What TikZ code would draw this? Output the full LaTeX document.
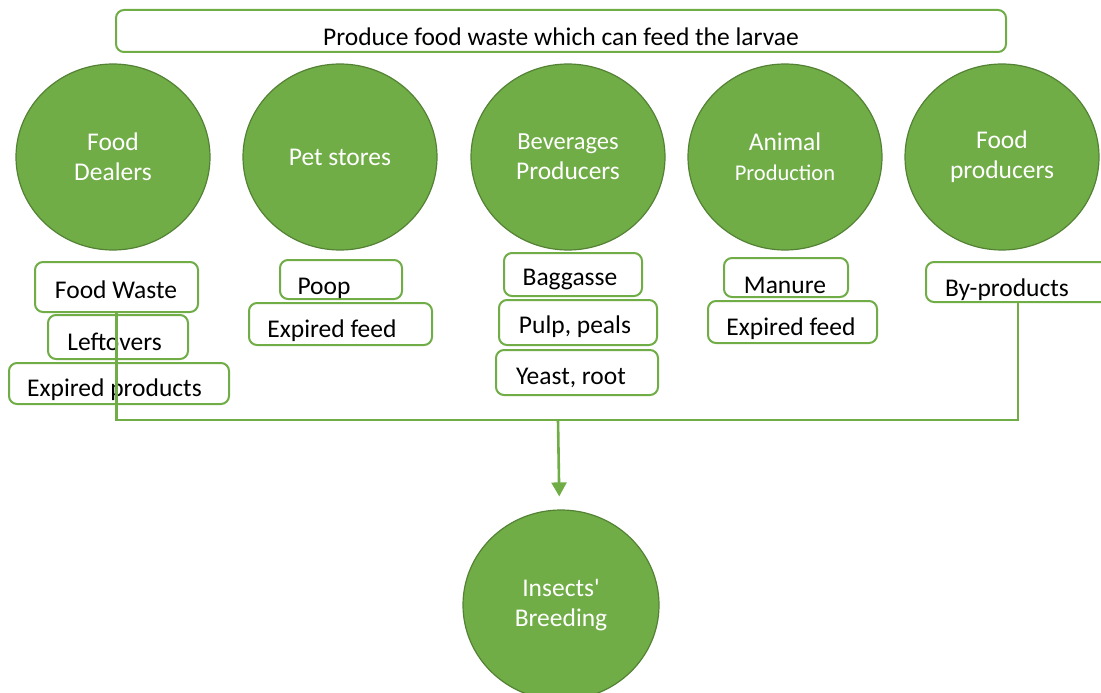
\documentclass[tikz,border=0pt]{standalone}
\usepackage{fontspec}
\setmainfont{Carlito}
\usetikzlibrary{arrows.meta, positioning, shapes.geometric}
\definecolor{leaf}{HTML}{70AD47}
\definecolor{leafdark}{HTML}{548235}

\tikzset{
  source/.style={ellipse, fill=leaf, draw=leafdark, line width=1.2pt,
    minimum width=194pt, minimum height=186pt, text=white, align=center,
    font=\fontsize{25.5}{30}\selectfont},
  item/.style={draw=leaf, line width=2pt, rounded corners=8pt, fill=white},
  itemtext/.style={inner sep=0pt, font=\fontsize{25.5}{30}\selectfont},
  link/.style={draw=leaf, line width=2.6pt},
}

\begin{document}
\begin{tikzpicture}[x=1pt, y=-1pt]
  \useasboundingbox (0,0) rectangle (1101,693);

  % header
  \node[item, minimum width=890pt, minimum height=42pt] (goal) at (561,31) {};
  \node[itemtext] (goal-t) at (561,37) {Produce food waste which can feed the larvae};

  % sources
  \node[source] (dealers) at (113,157) {Food\\Dealers};
  \node[source] (pets) at (340,157) {Pet stores};
  \node[source] (drinks) at (568,157) {{\fontsize{24.5}{30}\selectfont Beverages}\\Producers};
  \node[source] (animals) at (785,157) {Animal\\{\fontsize{22.5}{30}\selectfont Production}};
  \node[source] (makers) at (1002,157) {Food\\producers};

  % waste streams
  \node[item, minimum width=163pt, minimum height=50pt] (fw) at (116.5,287) {};
  \node[itemtext] (fw-t) at (116,290) {Food Waste};
  \node[item, minimum width=140pt, minimum height=44pt] (lo) at (118,337) {};
  \node[itemtext] (lo-t) at (114.5,342) {Leftovers};
  \node[item, minimum width=220pt, minimum height=41pt] (ep) at (119,383.5) {};
  \node[itemtext] (ep-t) at (114.5,390) {Expired products};

  \node[item, minimum width=122pt, minimum height=39pt] (poop) at (341,279.5) {};
  \node[itemtext] (poop-t) at (324,288) {Poop};
  \node[item, minimum width=183pt, minimum height=42pt] (efp) at (340.5,324) {};
  \node[itemtext] (efp-t) at (332,331) {Expired feed};

  \node[item, minimum width=138pt, minimum height=43pt] (bag) at (573,274.5) {};
  \node[itemtext] (bag-t) at (570,280) {Baggasse};
  \node[item, minimum width=158pt, minimum height=45pt] (pulp) at (578,322.5) {};
  \node[itemtext] (pulp-t) at (575,327) {Pulp, peals};
  \node[item, minimum width=162pt, minimum height=45pt] (yeast) at (577,372.5) {};
  \node[itemtext] (yeast-t) at (571,378) {Yeast, root};

  \node[item, minimum width=124pt, minimum height=39pt] (manure) at (786,277.5) {};
  \node[itemtext] (manure-t) at (785,285) {Manure};
  \node[item, minimum width=169pt, minimum height=42pt] (efa) at (792.5,322) {};
  \node[itemtext] (efa-t) at (791,329) {Expired feed};

  \node[item, minimum width=184pt, minimum height=40pt] (byp) at (1018,282) {};
  \node[itemtext] (byp-t) at (1007,290) {By-products};

  % target
  \node[source, minimum width=196pt, minimum height=190pt] (insects) at (561,605) {Insects\textquotesingle\\Breeding};

  % collector line
  \coordinate (bus) at (558,420);
  \draw[link] (fw.south) |- (bus) -| (byp.south);
  \draw[link, -{Triangle[width=15pt,length=14pt]}, shorten >=13pt] (bus) -- (insects);
\end{tikzpicture}
\end{document}
